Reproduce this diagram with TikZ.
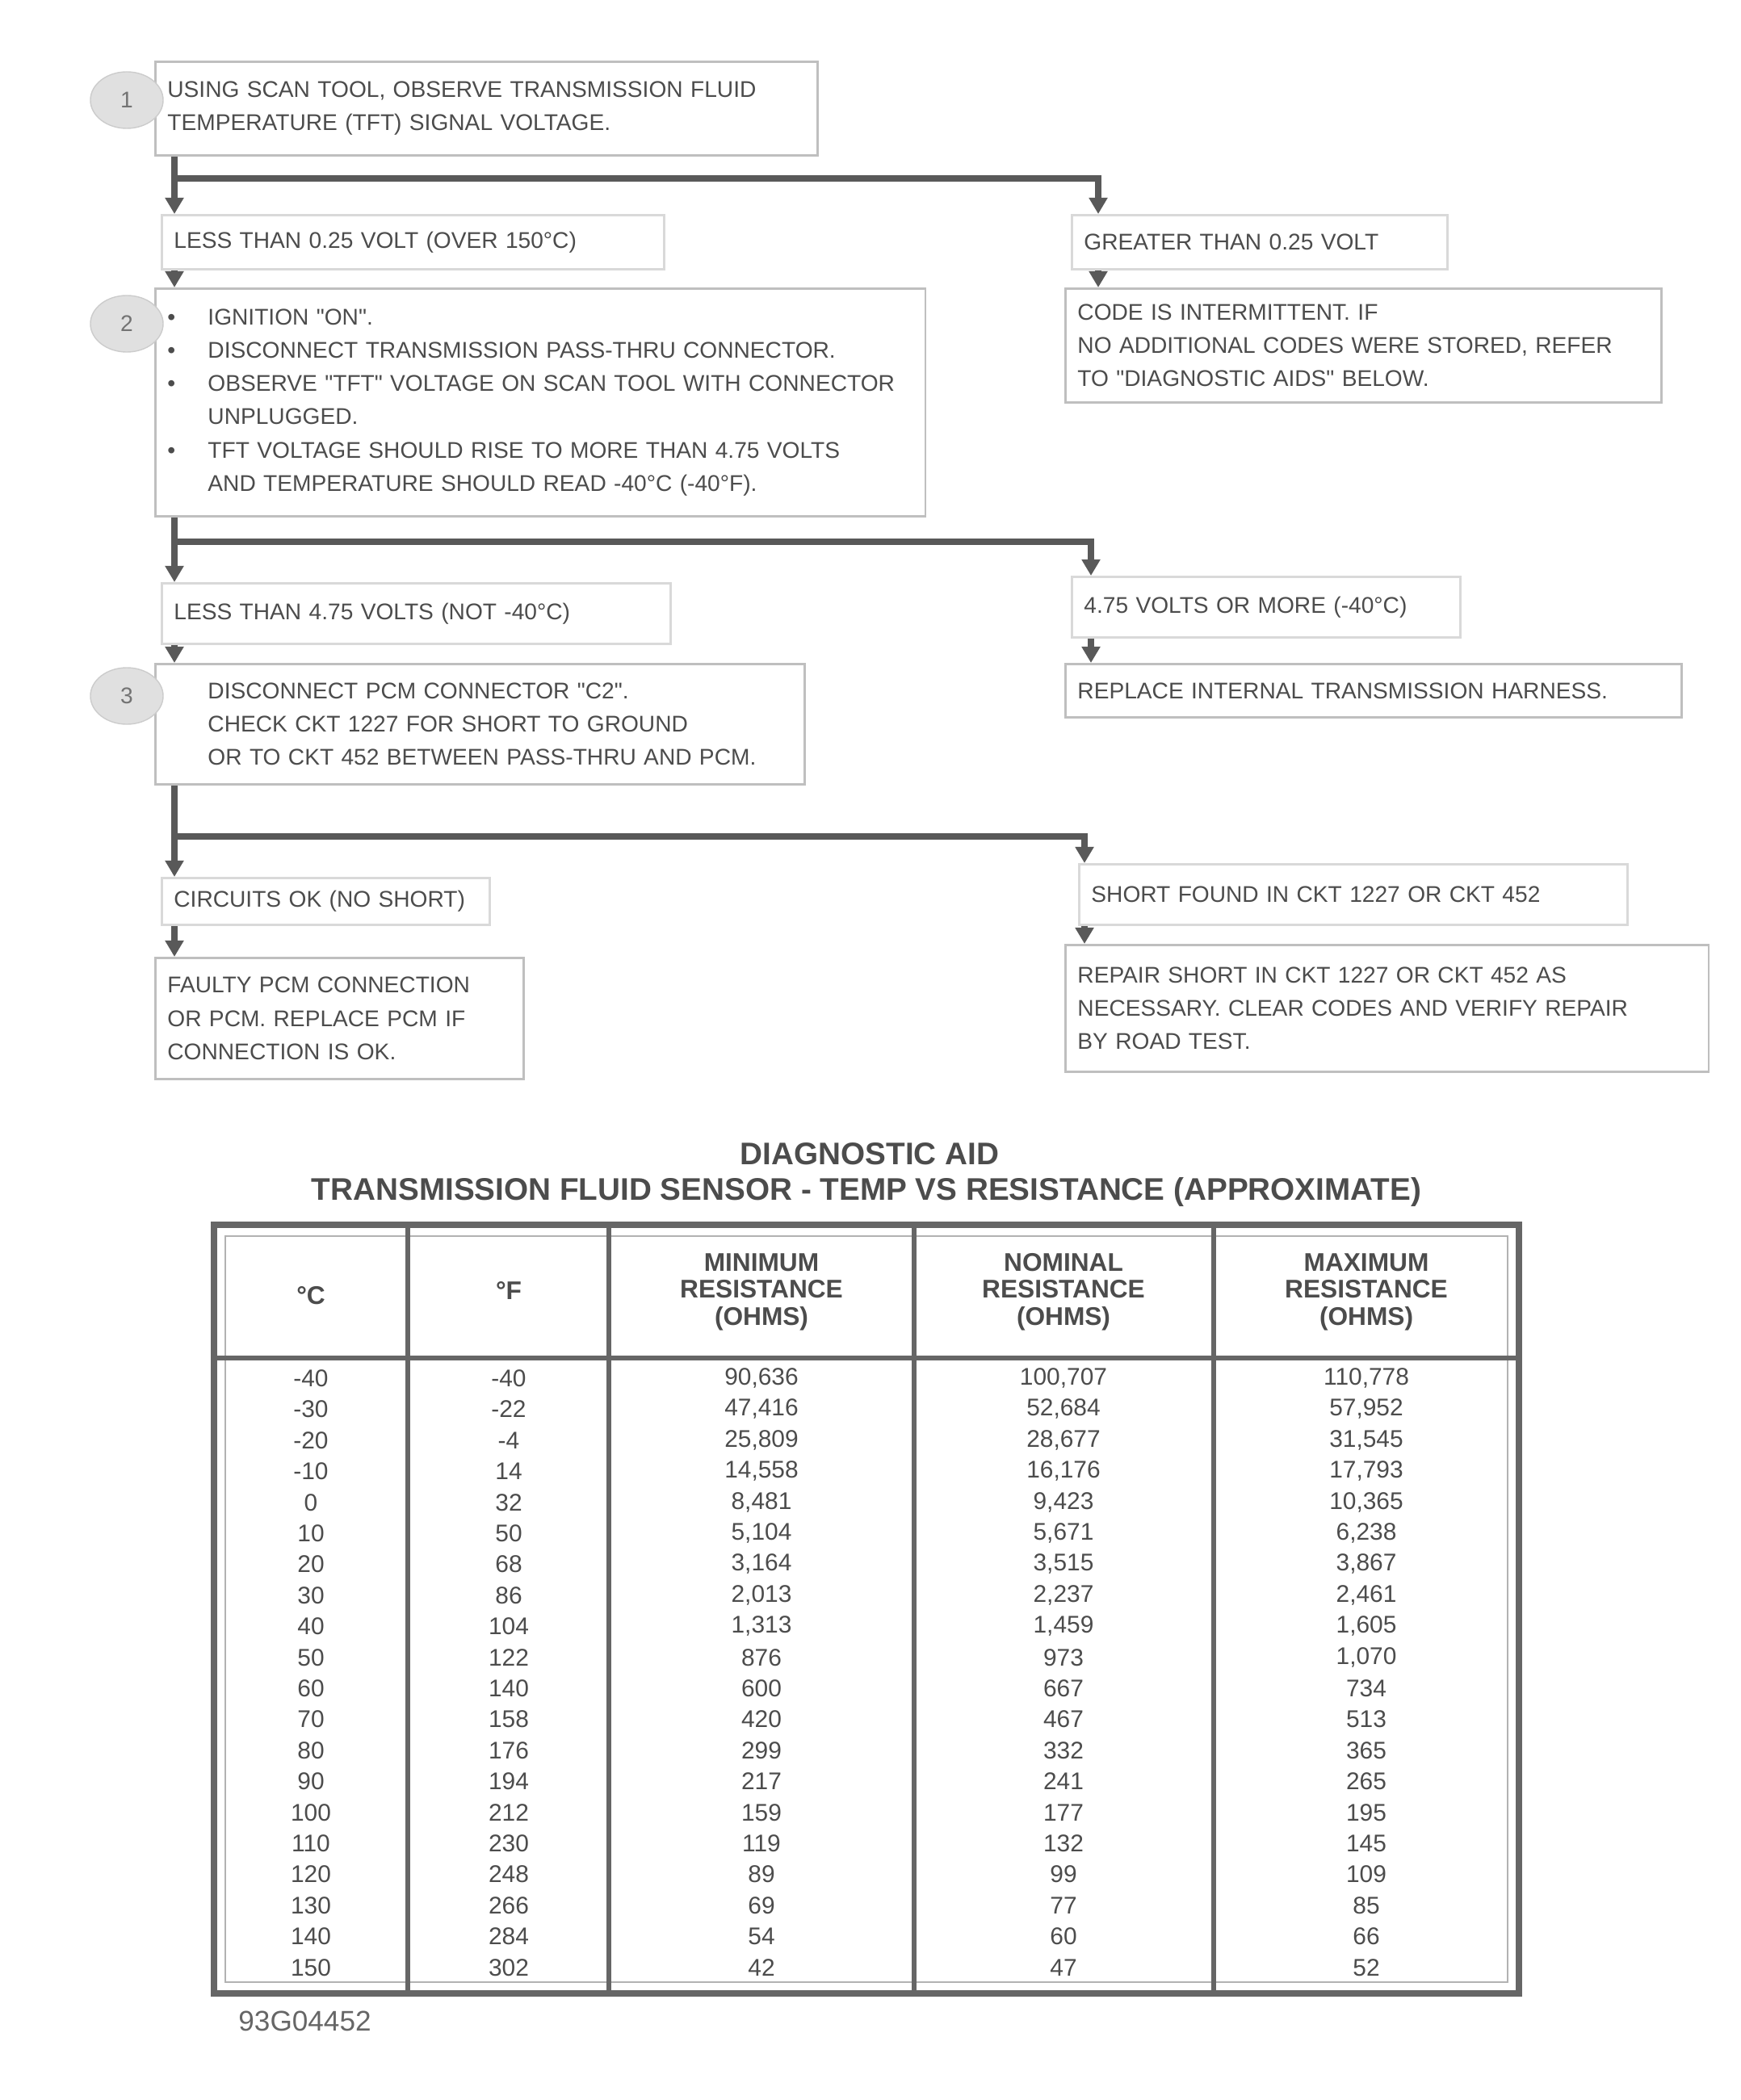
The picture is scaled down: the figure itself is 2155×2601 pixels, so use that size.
\documentclass[tikz,border=0pt]{standalone}
\usepackage{fontspec}
\newfontfamily\gmfont{Liberation Sans}
\usetikzlibrary{arrows.meta,shapes.geometric}
\newcommand{\chartfont}{\gmfont\fontsize{8}{11.7}\selectfont}
\newcommand{\tblfont}{\gmfont\fontsize{8.5}{10}\selectfont}
\newcommand{\bul}{\makebox[0.5cm][l]{•}}
\newcommand{\ind}{\hspace*{0.5cm}}
% one row of the resistance table: index, y, C, F, min, nominal, max
\newcommand{\tfrow}[7]{%
	\node[cell] (t#1a) at (385,#2) {#3};
	\node[cell] (t#1b) at (630,#2) {#4};
	\node[cell] (t#1c) at (943,#2) {#5};
	\node[cell] (t#1d) at (1317,#2) {#6};
	\node[cell] (t#1e) at (1692,#2) {#7};
}

\begin{document}
\begin{tikzpicture}[x=0.01cm, y=-0.01cm,
	stepbox/.style={draw=black!25, line width=0.8pt, fill=white, anchor=north west, align=left, font=\chartfont, text=black!70, inner xsep=0.15cm, inner ysep=0pt},
	resultbox/.style={stepbox, draw=black!15},
	stepnum/.style={ellipse, draw=black!20, fill=black!12, minimum width=0.9cm, minimum height=0.7cm, font=\chartfont, text=black!55},
	flow/.style={draw=black!65, line width=2.2pt, -{Triangle[length=0.2cm, width=0.22cm]}},
	cell/.style={font=\tblfont, text=black!70, inner sep=0pt},
	headcell/.style={font=\gmfont\fontsize{9}{9.5}\selectfont\bfseries, text=black!70, align=center, inner sep=0pt},
	tblline/.style={draw=black!60, line width=1.6pt}]
	\useasboundingbox (0,0) rectangle (2155,2601);

	% step 1
	\node[stepbox, minimum height=1.16cm, text width=7.9cm] (box1) at (191,75) {USING SCAN TOOL, OBSERVE TRANSMISSION FLUID\\TEMPERATURE (TFT) SIGNAL VOLTAGE.};
	\node[resultbox, minimum height=0.67cm, text width=5.92cm] (l1) at (199,265) {LESS THAN 0.25 VOLT (OVER 150°C)};
	\node[resultbox, minimum height=0.67cm, text width=4.35cm] (r1) at (1326,265) {GREATER THAN 0.25 VOLT};
	\node[stepbox, minimum height=1.41cm, text width=7.08cm] (r1box) at (1318,356) {CODE IS INTERMITTENT. IF\\NO ADDITIONAL CODES WERE STORED, REFER\\TO "DIAGNOSTIC AIDS" BELOW.};

	% step 2
	\node[stepbox, minimum height=2.82cm, text width=9.23cm] (box2) at (191,356) {\bul IGNITION "ON".\\
		\bul DISCONNECT TRANSMISSION PASS-THRU CONNECTOR.\\
		\bul OBSERVE "TFT" VOLTAGE ON SCAN TOOL WITH CONNECTOR\\
		\ind UNPLUGGED.\\
		\bul TFT VOLTAGE SHOULD RISE TO MORE THAN 4.75 VOLTS\\
		\ind AND TEMPERATURE SHOULD READ -40°C (-40°F).};
	\node[resultbox, minimum height=0.75cm, text width=6.0cm] (l2) at (199,721) {LESS THAN 4.75 VOLTS (NOT -40°C)};
	\node[resultbox, minimum height=0.75cm, text width=4.51cm] (r2) at (1326,713) {4.75 VOLTS OR MORE (-40°C)};
	\node[stepbox, minimum height=0.66cm, text width=7.33cm] (r2box) at (1318,821) {REPLACE INTERNAL TRANSMISSION HARNESS.};

	% step 3
	\node[stepbox, minimum height=1.49cm, text width=7.74cm] (box3) at (191,821) {\ind DISCONNECT PCM CONNECTOR "C2".\\
		\ind CHECK CKT 1227 FOR SHORT TO GROUND\\
		\ind OR TO CKT 452 BETWEEN PASS-THRU AND PCM.};
	\node[resultbox, minimum height=0.58cm, text width=3.76cm] (l3) at (199,1086) {CIRCUITS OK (NO SHORT)};
	\node[stepbox, minimum height=1.5cm, text width=4.26cm] (l3box) at (191,1185) {FAULTY PCM CONNECTION\\OR PCM. REPLACE PCM IF\\CONNECTION IS OK.};
	\node[resultbox, minimum height=0.75cm, text width=6.49cm] (r3) at (1335,1069) {SHORT FOUND IN CKT 1227 OR CKT 452};
	\node[stepbox, minimum height=1.57cm, text width=7.66cm] (r3box) at (1318,1169) {REPAIR SHORT IN CKT 1227 OR CKT 452 AS\\NECESSARY. CLEAR CODES AND VERIFY REPAIR\\BY ROAD TEST.};

	\node[stepnum] (n1) at (157,124) {1};
	\node[stepnum] (n2) at (157,401) {2};
	\node[stepnum] (n3) at (157,862) {3};

	% branches
	\coordinate (j1) at (216,221);
	\coordinate (k1) at (1360,221);
	\coordinate (j2) at (216,671);
	\coordinate (k2) at (1351,671);
	\coordinate (j3) at (216,1036);
	\coordinate (k3) at (1343,1036);

	\draw[flow] (box1.south -| j1) -- (l1.north -| j1);
	\draw[flow] (j1) -- (k1) -- (r1.north -| k1);
	\draw[flow] (l1.south -| j1) -- (box2.north -| j1);
	\draw[flow] (r1.south -| k1) -- (r1box.north -| k1);

	\draw[flow] (box2.south -| j2) -- (l2.north -| j2);
	\draw[flow] (j2) -- (k2) -- (r2.north -| k2);
	\draw[flow] (l2.south -| j2) -- (box3.north -| j2);
	\draw[flow] (r2.south -| k2) -- (r2box.north -| k2);

	\draw[flow] (box3.south -| j3) -- (l3.north -| j3);
	\draw[flow] (j3) -- (k3) -- (r3.north -| k3);
	\draw[flow] (l3.south -| j3) -- (l3box.north -| j3);
	\draw[flow] (r3.south -| k3) -- (r3box.north -| k3);

	% table
	\node[font=\gmfont\fontsize{11}{13}\selectfont\bfseries, text=black!70] (title1) at (1077,1429) {DIAGNOSTIC AID};
	\node[font=\gmfont\fontsize{11}{13}\selectfont\bfseries, text=black!70] (title2) at (1073,1476) {TRANSMISSION FLUID SENSOR - TEMP VS RESISTANCE (APPROXIMATE)};

	\draw[draw=black!60, line width=2.5pt] (265,1517) rectangle (1881,2469);
	\draw[draw=black!30, line width=0.8pt] (279,1531) rectangle (1867,2455);
	\draw[tblline] (265,1682) -- (1881,1682);
	\draw[tblline] (505,1517) -- (505,2469);
	\draw[tblline] (754,1517) -- (754,2469);
	\draw[tblline] (1132,1517) -- (1132,2469);
	\draw[tblline] (1503,1517) -- (1503,2469);

	\node[headcell] (hc) at (385,1605) {°C};
	\node[headcell] (hf) at (630,1598) {°F};
	\node[headcell] (hmin) at (943,1600) {MINIMUM\\RESISTANCE\\(OHMS)};
	\node[headcell] (hnom) at (1317,1600) {NOMINAL\\RESISTANCE\\(OHMS)};
	\node[headcell] (hmax) at (1692,1600) {MAXIMUM\\RESISTANCE\\(OHMS)};

	\tfrow{1}{1707}{-40}{-40}{90,636}{100,707}{110,778}
	\tfrow{2}{1745}{-30}{-22}{47,416}{52,684}{57,952}
	\tfrow{3}{1784}{-20}{-4}{25,809}{28,677}{31,545}
	\tfrow{4}{1822}{-10}{14}{14,558}{16,176}{17,793}
	\tfrow{5}{1861}{0}{32}{8,481}{9,423}{10,365}
	\tfrow{6}{1899}{10}{50}{5,104}{5,671}{6,238}
	\tfrow{7}{1937}{20}{68}{3,164}{3,515}{3,867}
	\tfrow{8}{1976}{30}{86}{2,013}{2,237}{2,461}
	\tfrow{9}{2014}{40}{104}{1,313}{1,459}{1,605}
	\tfrow{10}{2053}{50}{122}{876}{973}{1,070}
	\tfrow{11}{2091}{60}{140}{600}{667}{734}
	\tfrow{12}{2129}{70}{158}{420}{467}{513}
	\tfrow{13}{2168}{80}{176}{299}{332}{365}
	\tfrow{14}{2206}{90}{194}{217}{241}{265}
	\tfrow{15}{2245}{100}{212}{159}{177}{195}
	\tfrow{16}{2283}{110}{230}{119}{132}{145}
	\tfrow{17}{2321}{120}{248}{89}{99}{109}
	\tfrow{18}{2360}{130}{266}{69}{77}{85}
	\tfrow{19}{2398}{140}{284}{54}{60}{66}
	\tfrow{20}{2437}{150}{302}{42}{47}{52}

	\node[font=\gmfont\fontsize{10}{12}\selectfont, text=black!60, anchor=west] (figid) at (283,2503) {93G04452};
\end{tikzpicture}
\end{document}
